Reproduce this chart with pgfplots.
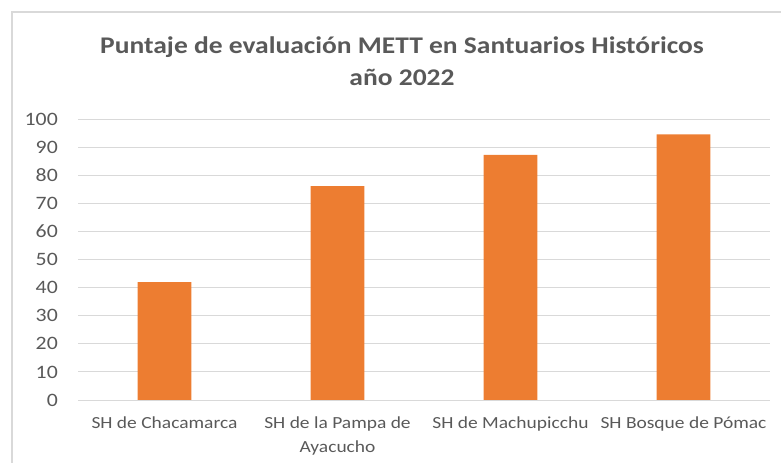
\documentclass[border=0pt]{standalone}
\usepackage{fontspec}
\setmainfont{Carlito}[FakeStretch=1.15]
\usepackage{pgfplots}
\pgfplotsset{compat=1.18}
\definecolor{barorange}{HTML}{ED7D31}
\definecolor{txtgray}{HTML}{595959}
\definecolor{gridgray}{HTML}{D9D9D9}
\begin{document}
\begin{tikzpicture}
\useasboundingbox (0,0) rectangle (781bp,463bp);
% chart frame (cut off on right and bottom)
\draw[gridgray, line width=1.5bp] (12bp,0) -- (12bp,451bp) -- (781bp,451bp);
\node[align=center, text=txtgray, font={\fontsize{24}{32}\selectfont\bfseries}]
  at (402bp,402bp) {Puntaje de evaluación METT en Santuarios Históricos\\año 2022};
\begin{axis}[
    at={(78bp,63bp)}, anchor=south west,
    scale only axis, width=692bp, height=280.7bp,
    ybar, bar width=0.312,
    xmin=-0.5, xmax=3.5, ymin=0, ymax=100,
    xtick={0,1,2,3},
    xticklabels={SH de Chacamarca, SH de la Pampa de\\Ayacucho, SH de Machupicchu, SH Bosque de Pómac},
    ytick={0,10,...,100},
    ymajorgrids, grid style={gridgray, line width=1bp},
    axis line style={draw=none},
    major tick length=0pt,
    /pgf/number format/assume math mode=true,
    tick label style={text=txtgray},
    yticklabel style={inner sep=0pt, xshift=-20bp, font={\fontsize{19}{24}\selectfont}},
    xticklabel style={inner sep=0pt, yshift=-17bp, align=center, font={\fontsize{17}{24}\selectfont}},
]
\addplot[fill=barorange, draw=none] coordinates {(0,42) (1,76.2) (2,87.3) (3,94.6)};
\end{axis}
\end{tikzpicture}
\end{document}
